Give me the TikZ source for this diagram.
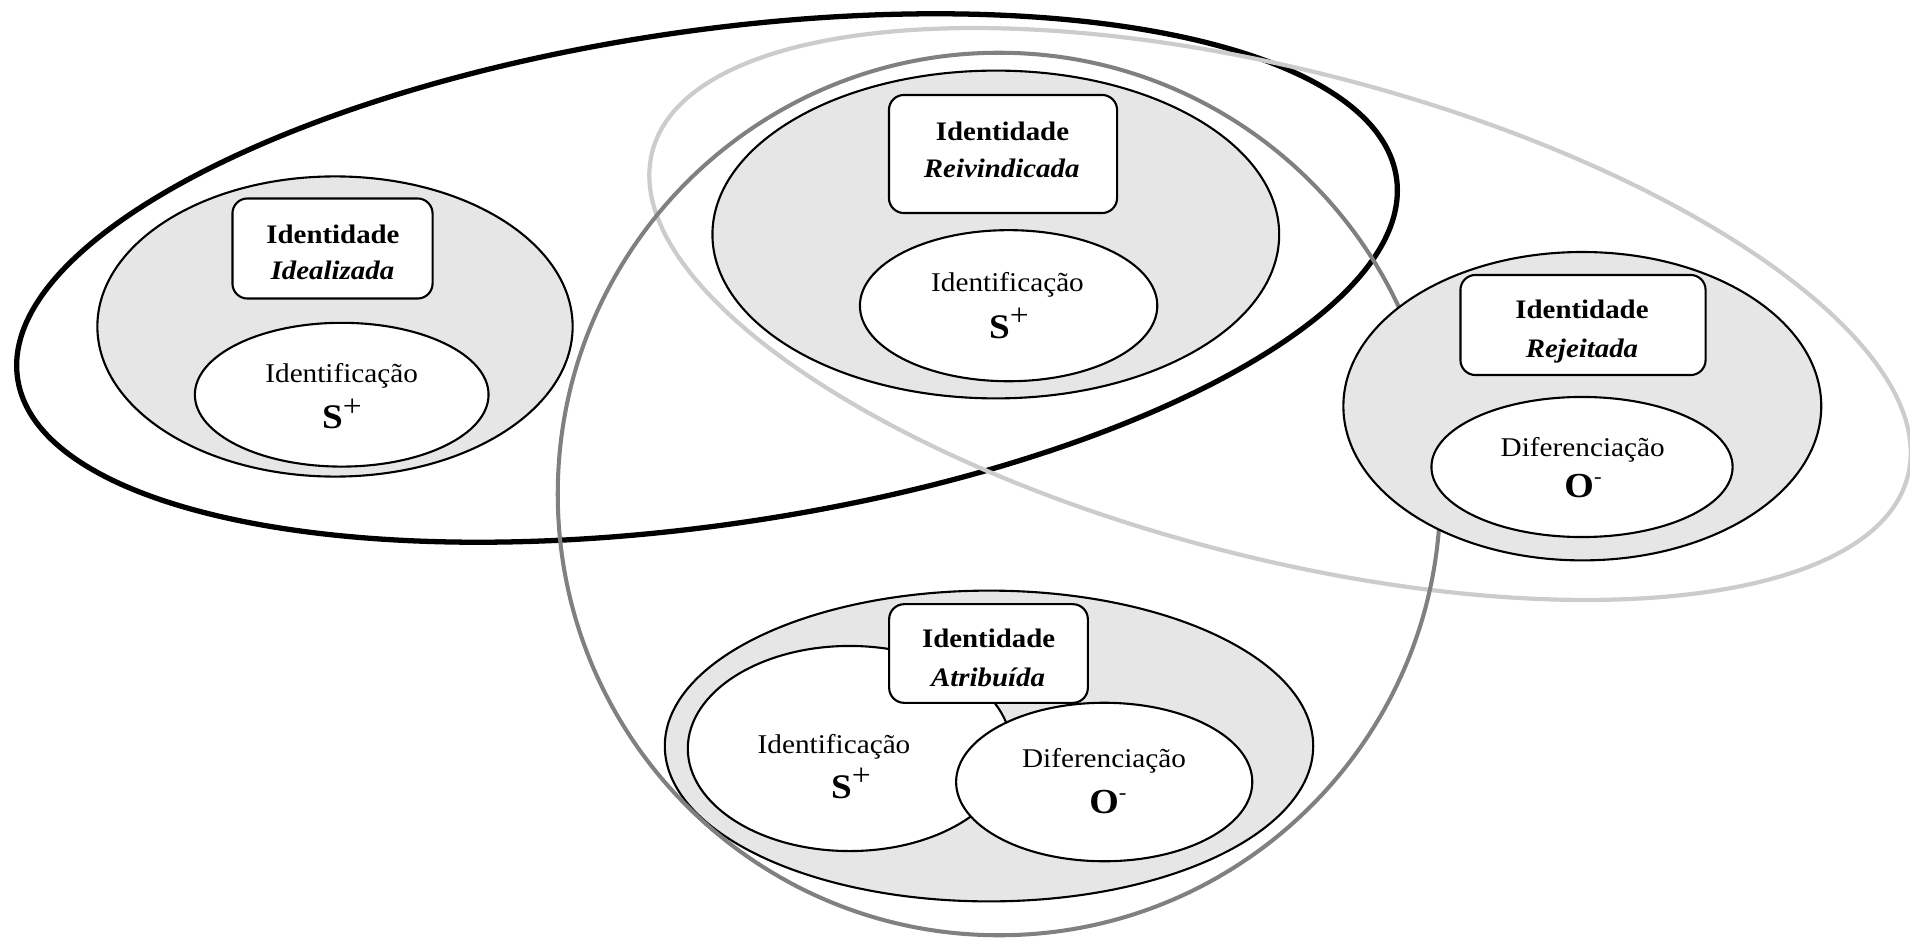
\documentclass[tikz,border=0pt]{standalone}
\usepackage{fontspec}
\setmainfont[FakeStretch=1.08]{Liberation Serif}
\usepackage{graphicx}
\usetikzlibrary{shapes.geometric}

\definecolor{zonefill}{RGB}{230,230,230}
\definecolor{ringdark}{RGB}{128,128,128}
\definecolor{ringlight}{RGB}{204,204,204}

% big sign letters with a raised plus / minus
\newcommand{\signS}{{\fontsize{9.8}{11}\selectfont\textbf{S}\raisebox{3.5pt}{\fontsize{8.8}{10}\selectfont +}}}
\newcommand{\signO}{{\fontsize{10}{11}\selectfont\textbf{O}\raisebox{3.7pt}{\fontsize{6}{7}\selectfont -}}}

\begin{document}
\begin{tikzpicture}[x=0.01cm, y=-0.01cm,
  zone/.style={ellipse, draw=black, line width=0.6pt, fill=zonefill, inner sep=0pt},
  core/.style={ellipse, draw=black, line width=0.6pt, fill=white, inner sep=0pt},
  tag/.style={rectangle, rounded corners=0.15cm, draw=black, line width=0.6pt, fill=white, inner sep=0pt},
  txt/.style={anchor=base, inner sep=0pt, font=\fontsize{7.7}{9}\selectfont},
  head/.style={txt, font=\fontsize{7.6}{9}\selectfont\bfseries},
  kind/.style={txt, font=\fontsize{7.6}{9}\selectfont\bfseries\itshape},
  sign/.style={anchor=base, inner sep=0pt},
  ringA/.style={draw=black, line width=1.5pt},
  ringB/.style={draw=ringlight, line width=1.2pt},
  ringC/.style={draw=ringdark, line width=1.15pt}
]
\useasboundingbox (0,0) rectangle (1910,940);

% outer rings
\draw[ringA, rotate around={8.28:(707,278)}] (707,278) ellipse [x radius=6.963cm, y radius=2.468cm];
\draw[ringB, rotate around={-14.5:(1280,314)}] (1280,314) ellipse [x radius=6.48cm, y radius=2.43cm];

% Identidade Atribuida
\node[zone, minimum width=6.48cm, minimum height=3.106cm] (atr) at (989,746) {};
\node[core, minimum width=3.234cm, minimum height=2.05cm] (atr-id) at (849.6,748.5) {};
\node[core, minimum width=2.96cm, minimum height=1.584cm] (atr-df) at (1104.2,782) {};
\node[tag, minimum width=1.986cm, minimum height=0.986cm] (atr-tag) at (988.5,653.5) {};
\node[head] (atr-t1) at (988.6,647) {Identidade};
\node[kind] (atr-t2) at (988,686) {Atribuída};
\node[txt] (atr-t3) at (834,753) {Identificação};
\node[sign] (atr-t4) at (851,798) {\signS};
\node[txt] (atr-t5) at (1104,767) {Diferenciação};
\node[sign] (atr-t6) at (1108,813) {\signO};

% middle ring
\draw[ringC] (999,494) circle [radius=4.41cm];

% Identidade Idealizada
\node[zone, minimum width=4.75cm, minimum height=3cm] (idl) at (335,326.5) {};
\node[tag, minimum width=2cm, minimum height=1cm] (idl-tag) at (332.5,248.5) {};
\node[core, minimum width=2.935cm, minimum height=1.437cm] (idl-id) at (341.7,394.7) {};
\node[head] (idl-t1) at (333,243.3) {Identidade};
\node[kind] (idl-t2) at (332.5,280) {Idealizada};
\node[txt] (idl-t3) at (341.7,383) {Identificação};
\node[sign] (idl-t4) at (342,429) {\signS};

% Identidade Reivindicada
\node[zone, minimum width=5.664cm, minimum height=3.276cm] (rei) at (995.8,234.5) {};
\node[tag, minimum width=2.28cm, minimum height=1.18cm] (rei-tag) at (1003,154) {};
\node[core, minimum width=2.972cm, minimum height=1.51cm] (rei-id) at (1008.6,305.7) {};
\node[head] (rei-t1) at (1002.5,141) {Identidade};
\node[kind] (rei-t2) at (1001.7,178) {Reivindicada};
\node[txt] (rei-t3) at (1007.5,292) {Identificação};
\node[sign] (rei-t4) at (1009,338) {\signS};

% Identidade Rejeitada
\node[zone, minimum width=4.776cm, minimum height=3.082cm] (rej) at (1582.3,406.2) {};
\node[tag, minimum width=2.45cm, minimum height=1cm] (rej-tag) at (1583,325) {};
\node[core, minimum width=3.01cm, minimum height=1.4cm] (rej-df) at (1582,467) {};
\node[head] (rej-t1) at (1582,319) {Identidade};
\node[kind] (rej-t2) at (1582,357) {Rejeitada};
\node[txt] (rej-t3) at (1582.7,456) {Diferenciação};
\node[sign] (rej-t4) at (1583,497) {\signO};
\end{tikzpicture}
\end{document}
